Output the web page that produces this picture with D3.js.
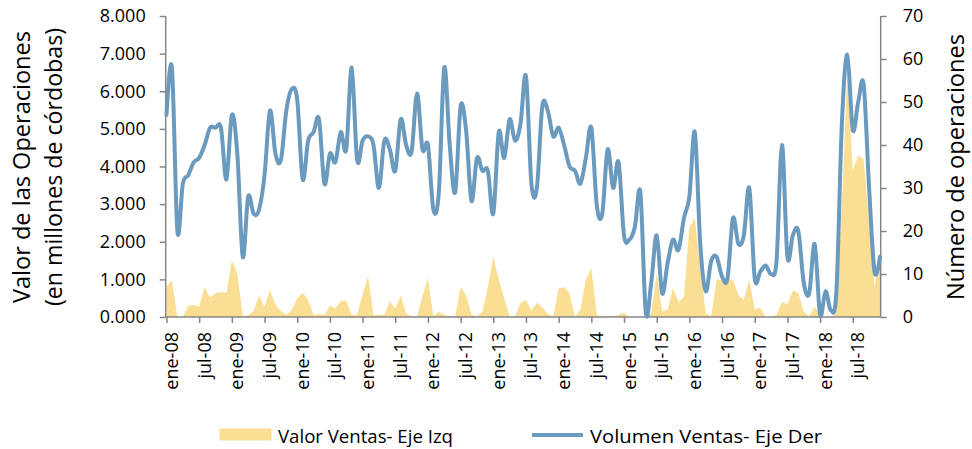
<!DOCTYPE html>
<html>
<head>
<meta charset="utf-8">
<script src="https://cdnjs.cloudflare.com/ajax/libs/d3/7.8.5/d3.min.js"></script>
<style>
  body { margin: 0; background: #fff; }
  svg { display: block; font-family: "Open Sans", sans-serif; }
</style>
</head>
<body>
<svg id="chart" width="972" height="449"></svg>
<script>
// Categories: monthly, ene-08 .. dic-18
var meses = ['ene', 'feb', 'mar', 'abr', 'may', 'jun', 'jul', 'ago', 'sep', 'oct', 'nov', 'dic'];
var anios = ['08', '09', '10', '11', '12', '13', '14', '15', '16', '17', '18'];
var categorias = [];
anios.forEach(function (a) { meses.forEach(function (m) { categorias.push(m + '-' + a); }); });

// Tick labels on the x axis (every 6 months)
var etiquetasX = ['ene-08', 'jul-08', 'ene-09', 'jul-09', 'ene-10', 'jul-10', 'ene-11', 'jul-11',
    'ene-12', 'jul-12', 'ene-13', 'jul-13', 'ene-14', 'jul-14', 'ene-15', 'jul-15',
    'ene-16', 'jul-16', 'ene-17', 'jul-17', 'ene-18', 'jul-18'];

// Axis ticks
var ticksIzq = [0, 1000, 2000, 3000, 4000, 5000, 6000, 7000, 8000];
var ticksDer = [0, 10, 20, 30, 40, 50, 60, 70];

// Valor Ventas (millones de córdobas) - eje izquierdo
var valorVentas = [
    800, 980, 0, 0, 300, 320, 270, 800, 520, 630, 670, 630,
    1500, 1160, 20, 50, 150, 580, 270, 720, 330, 150, 50, 190,
    500, 650, 450, 50, 80, 50, 300, 230, 430, 430, 50, 60,
    600, 1100, 50, 50, 60, 410, 230, 560, 100, 20, 20, 550,
    1030, 20, 140, 60, 10, 10, 800, 580, 60, 20, 140, 800,
    1600, 1000, 500, 20, 20, 380, 450, 170, 380, 260, 80, 10,
    760, 800, 630, 0, 200, 1000, 1300, 50, 10, 10, 10, 50,
    110, 0, 0, 0, 0, 100, 1160, 150, 190, 780, 400, 540,
    2400, 2620, 1340, 100, 20, 1000, 980, 1000, 1000, 580, 450, 1000,
    200, 250, 0, 0, 50, 400, 330, 700, 650, 140, 20, 280,
    0, 0, 0, 100, 3000, 6500, 3900, 4300, 4200, 2500, 800, 1700
];

// Volumen Ventas (número de operaciones) - eje derecho
var volumenVentas = [
    47, 58, 20, 31, 33, 36, 37, 40, 44, 44, 44, 32,
    47, 38, 14, 28, 24, 25, 33, 48, 38, 36.5, 48, 53,
    50.5, 32, 41, 43, 46, 31, 38, 36, 43, 39, 58, 36.5,
    41, 42, 40, 30, 41, 39, 34, 46, 40, 38.5, 52, 39,
    40, 25, 29, 58, 40, 29, 49, 43.5, 27, 37, 34, 34,
    24, 43, 37, 46, 41, 45, 56, 31, 30, 49, 48, 42,
    44, 40, 35, 34, 31, 37, 44, 26, 24, 39, 30, 36,
    19, 18, 21, 29, 1, 8, 19, 5.5, 12.5, 18, 15.6, 23,
    28, 43, 17, 6, 13, 14, 9.4, 9, 23, 17, 19, 30,
    9, 10.5, 12, 10, 13, 40, 14, 19, 20, 8, 5.5, 17,
    0.5, 6, 1.5, 6, 45, 61, 43.5, 50, 54, 30, 10.5, 14
];

var colorArea = '#f9de94';
var colorLinea = '#6b9abf';
var colorEje = '#868686';

var svg = d3.select('#chart');

var plotLeft = 165.7, plotRight = 880.7, plotTop = 16, plotBottom = 317;

var x = d3.scalePoint().domain(categorias).range([166.5, 880]);
var yIzq = d3.scaleLinear().domain([0, 8000]).range([plotBottom, plotTop]);
var yDer = d3.scaleLinear().domain([0, 70]).range([plotBottom, plotTop]);

var datos = categorias.map(function (c, i) {
    return { cat: c, valor: valorVentas[i], volumen: volumenVentas[i] };
});

// Area (valor)
var area = d3.area()
    .x(function (d) { return x(d.cat); })
    .y0(yIzq(0))
    .y1(function (d) { return yIzq(d.valor); });

svg.append('path')
    .datum(datos)
    .attr('d', area)
    .attr('fill', colorArea);

// Left axis
var ejeIzq = svg.append('g')
    .attr('transform', 'translate(' + plotLeft + ',0)')
    .call(d3.axisLeft(yIzq).tickValues(ticksIzq).tickSize(6).tickPadding(14)
        .tickFormat(function (d) { return d3.format('.3f')(d / 1000); }));

// Right axis
var ejeDer = svg.append('g')
    .attr('transform', 'translate(' + plotRight + ',0)')
    .call(d3.axisRight(yDer).tickValues(ticksDer).tickSize(6).tickPadding(16));

// Bottom axis
var ejeX = svg.append('g')
    .attr('transform', 'translate(0,' + plotBottom + ')')
    .call(d3.axisBottom(x).tickValues(etiquetasX).tickSize(6).tickSizeOuter(0));

ejeX.select('.domain').attr('d', 'M' + plotLeft + ',0H' + plotRight);

ejeX.selectAll('.tick text')
    .attr('transform', 'rotate(-90)')
    .attr('text-anchor', 'end')
    .attr('x', -15)
    .attr('y', 11)
    .attr('dy', null);

[ejeIzq, ejeDer, ejeX].forEach(function (g) {
    g.select('.domain').attr('stroke', colorEje).attr('stroke-width', 1.5);
    g.selectAll('.tick line').attr('stroke', colorEje).attr('stroke-width', 1.5);
    g.selectAll('.tick text')
        .attr('fill', '#000')
        .style('font-family', '"Open Sans", sans-serif')
        .style('font-size', '18px');
});
ejeIzq.select('.domain').attr('d', 'M0,' + plotBottom + 'V' + plotTop);
ejeDer.select('.domain').attr('d', 'M0,' + plotBottom + 'V' + plotTop);

// Line (volumen)
var linea = d3.line()
    .x(function (d) { return x(d.cat); })
    .y(function (d) { return yDer(d.volumen); })
    .curve(d3.curveCardinal.tension(0));

svg.append('path')
    .datum(datos)
    .attr('d', linea)
    .attr('fill', 'none')
    .attr('stroke', colorLinea)
    .attr('stroke-width', 4)
    .attr('stroke-linejoin', 'round')
    .attr('stroke-linecap', 'round');

// Axis titles
svg.append('text')
    .attr('transform', 'translate(30,167) rotate(-90)')
    .attr('text-anchor', 'middle')
    .attr('textLength', 272)
    .attr('lengthAdjust', 'spacingAndGlyphs')
    .style('font-size', '23px')
    .text('Valor de las Operaciones');

svg.append('text')
    .attr('transform', 'translate(62,167) rotate(-90)')
    .attr('text-anchor', 'middle')
    .attr('textLength', 278)
    .attr('lengthAdjust', 'spacingAndGlyphs')
    .style('font-size', '23px')
    .text('(en millones de córdobas)');

svg.append('text')
    .attr('transform', 'translate(964,167) rotate(-90)')
    .attr('text-anchor', 'middle')
    .attr('textLength', 266)
    .attr('lengthAdjust', 'spacingAndGlyphs')
    .style('font-size', '23px')
    .text('Número de operaciones');

// Legend
var leyenda = svg.append('g');
leyenda.append('rect')
    .attr('x', 219.5).attr('y', 428.5)
    .attr('width', 52).attr('height', 12)
    .attr('fill', colorArea);
leyenda.append('text')
    .attr('x', 278).attr('y', 443)
    .attr('textLength', 175)
    .attr('lengthAdjust', 'spacingAndGlyphs')
    .style('font-size', '18.5px')
    .text('Valor Ventas- Eje Izq');
leyenda.append('line')
    .attr('x1', 532).attr('x2', 583)
    .attr('y1', 435).attr('y2', 435)
    .attr('stroke', colorLinea)
    .attr('stroke-width', 4);
leyenda.append('text')
    .attr('x', 590).attr('y', 443)
    .attr('textLength', 232)
    .attr('lengthAdjust', 'spacingAndGlyphs')
    .style('font-size', '18.5px')
    .text('Volumen Ventas- Eje Der');
</script>
</body>
</html>
